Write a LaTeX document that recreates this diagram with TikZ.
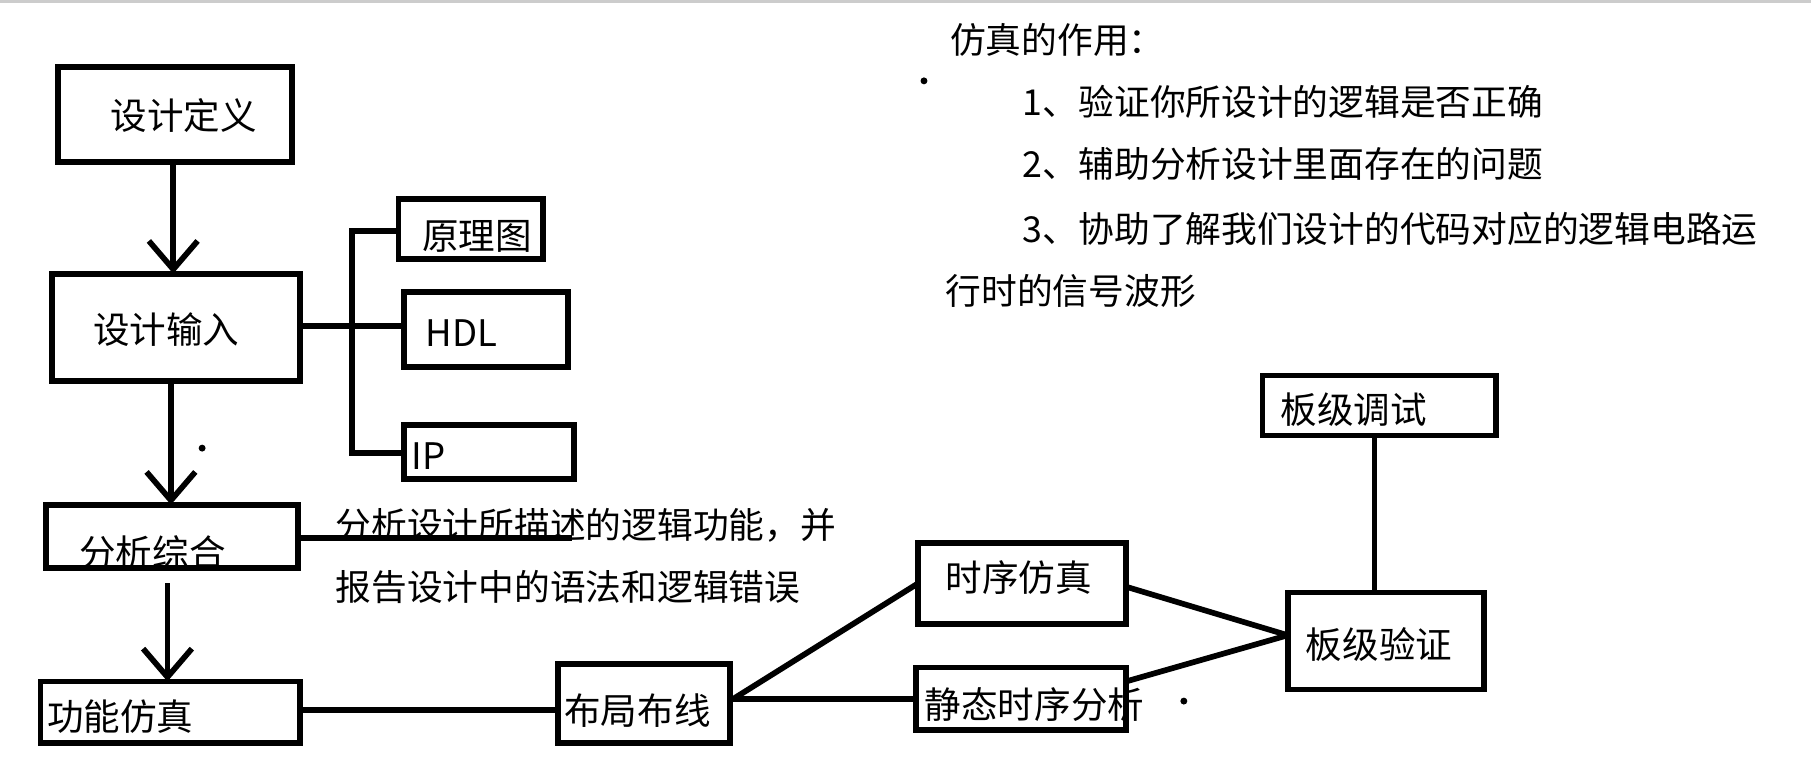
\documentclass[tikz,border=0pt]{standalone}
\usepackage{fontspec}
\setmainfont{Noto Sans CJK SC}
\usetikzlibrary{arrows.meta}
\begin{document}
\begin{tikzpicture}[x=0.01cm,y=-0.01cm,
  bx/.style={draw,line width=1.4pt,inner sep=0pt},
  ln/.style={line width=1.4pt},
  ar/.style={line width=1.4pt,-{Straight Barb[length=7pt,width=12pt,line width=1.4pt]}},
  txt/.style={font=\fontsize{9pt}{11pt}\selectfont,anchor=west,inner sep=0pt}]
\useasboundingbox (0,0) rectangle (1568,666);
\draw[gray!40,line width=1pt] (0,1) -- (1568,1);
\draw[bx] (50,58) rectangle (253,140); \node[txt] (a) at (95,100) {设计定义};
\draw[bx] (45,237) rectangle (260,330); \node[txt] (b) at (80,285) {设计输入};
\draw[bx] (345,172) rectangle (470,224); \node[txt] (c) at (365,205) {原理图};
\draw[bx] (350,253) rectangle (492,318); \node[txt] (d) at (368,288) {HDL};
\draw[bx] (350,368) rectangle (497,415); \node[txt] (e) at (356,395) {IP};
\draw[bx] (40,437) rectangle (258,492); \node[txt] (f) at (68,478) {分析综合};
\draw[bx] (35,590) rectangle (260,643); \node[txt] (g) at (40,620) {功能仿真};
\draw[bx] (483,575) rectangle (632,643); \node[txt] (h) at (488,615) {布局布线};
\draw[bx] (795,470) rectangle (975,540); \node[txt] (i) at (818,500) {时序仿真};
\draw[bx] (793,578) rectangle (975,632); \node[txt] (j) at (800,610) {静态时序分析};
\draw[bx] (1115,513) rectangle (1285,597); \node[txt] (k) at (1130,558) {板级验证};
\draw[bx] (1093,325) rectangle (1295,377); \node[txt] (l) at (1108,355) {板级调试};
\coordinate (a1) at (150,140); \coordinate (b1) at (150,237);
\draw[ar] (a1) -- (b1);
\coordinate (b2) at (148,330); \coordinate (f1) at (148,437);
\draw[ar] (b2) -- (f1);
\coordinate (f2) at (145,505); \coordinate (g1) at (145,590);
\draw[ar] (f2) -- (g1);
\coordinate (br) at (260,282);
\draw[ln] (br) -- (350,282);
\draw[ln] (345,200) -- (305,200) -- (305,392) -- (350,392);
\draw[ln] (258,466) -- (495,466);
\node[txt,font=\fontsize{8.8pt}{10pt}\selectfont] (n1) at (290,455) {分析设计所描述的逻辑功能，并};
\node[txt,font=\fontsize{8.8pt}{10pt}\selectfont] (n2) at (290,508) {报告设计中的语法和逻辑错误};
\draw[ln] (260,615) -- (483,615);
\coordinate (h1) at (635,605);
\draw[ln] (h1) -- (795,505);
\draw[ln] (h1) -- (793,605);
\coordinate (k1) at (1115,550);
\draw[ln] (975,508) -- (k1);
\draw[ln] (975,590) -- (k1);
\draw[ln] (1190,377) -- (1190,513);
\begin{scope}[txt/.append style={font=\fontsize{8.8pt}{10pt}\selectfont}]
\node[txt] (t0) at (822,35) {仿真的作用：};
\node[txt] (t1) at (885,88) {1、验证你所设计的逻辑是否正确};
\node[txt] (t2) at (885,142) {2、辅助分析设计里面存在的问题};
\node[txt] (t3) at (885,198) {3、协助了解我们设计的代码对应的逻辑电路运};
\node[txt] (t4) at (818,252) {行时的信号波形};
\end{scope}
\fill (800,70) circle (3);
\fill (1025,607) circle (3);
\fill (175,388) circle (3);
\end{tikzpicture}
\end{document}
